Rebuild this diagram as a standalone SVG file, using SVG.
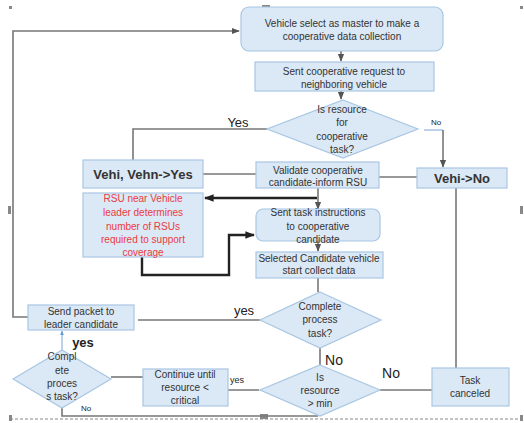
<svg xmlns="http://www.w3.org/2000/svg" width="524" height="423" viewBox="0 0 524 423">
<defs>
<style>
.box{fill:#dbe8f5;stroke:#a8c6e3;stroke-width:1.2}
.t{font-family:"Liberation Sans",Arial,sans-serif;font-size:10px;fill:#333;text-anchor:middle}
.b{font-family:"Liberation Sans",Arial,sans-serif;font-size:13px;font-weight:bold;fill:#333;text-anchor:middle}
.l{font-family:"Liberation Sans",Arial,sans-serif;fill:#222;text-anchor:middle}
.red{fill:#ec3a3f}
.c{fill:none;stroke:#777;stroke-width:1.6}
.k{fill:none;stroke:#222;stroke-width:2.4}
.h{fill:#888}
</style>
<marker id="a" viewBox="0 0 10 10" refX="9" refY="5" markerWidth="5" markerHeight="5" orient="auto"><path d="M0,1 L10,5 L0,9 z" fill="#555"/></marker>
<marker id="ak" viewBox="0 0 10 10" refX="9" refY="5" markerWidth="4" markerHeight="4" orient="auto"><path d="M0,1 L10,5 L0,9 z" fill="#222"/></marker>
<marker id="ab" viewBox="0 0 10 10" refX="9" refY="5" markerWidth="4" markerHeight="4" orient="auto"><path d="M0,1 L10,5 L0,9 z" fill="#5b9bd5"/></marker>
</defs>
<rect width="524" height="423" fill="#fff"/>
<g id="frame">
<line x1="10" y1="419" x2="521" y2="419" stroke="#888" stroke-width="1" stroke-dasharray="3,2"/>
<rect class="h" x="9" y="6" width="3" height="3"/>
<rect class="h" x="520" y="6" width="3" height="3"/>
<rect class="h" x="262" y="5" width="8" height="3"/>
<rect class="h" x="8" y="206" width="3" height="8"/>
<rect class="h" x="520" y="206" width="3" height="8"/>
<rect class="h" x="9" y="415" width="3" height="6"/>
<rect class="h" x="260" y="414" width="8" height="5"/>
<rect class="h" x="520" y="415" width="3" height="6"/>
</g>
<g id="connectors">
<path class="c" d="M28,317 H13 V31 H239" marker-end="url(#a)"/>
<path class="c" d="M341,51 V61" marker-end="url(#a)"/>
<path class="c" d="M341,91 V99" marker-end="url(#a)"/>
<path class="c" d="M267,129 H133 V160"/>
<path d="M424,130 H443" fill="none" stroke="#8fb6de" stroke-width="1.2"/>
<path class="c" d="M443,130 V167" marker-end="url(#a)"/>
<path class="c" d="M202,174 H256"/>
<path class="c" d="M379,177 H417"/>
<path class="c" d="M456,188 V368"/>
<path class="k" d="M317,198 H205" marker-end="url(#ak)"/>
<path class="c" d="M318,188 V209" marker-end="url(#a)"/>
<path class="k" d="M142,257 V275 H229 V235 H254" marker-end="url(#ak)"/>
<path class="c" d="M318,241 V251" marker-end="url(#a)"/>
<path class="c" d="M318,278 V292"/>
<path class="c" d="M260,320 H138"/>
<path d="M62,351 V331" fill="none" stroke="#8fb6de" stroke-width="1.2" marker-end="url(#ab)"/>
<path class="c" d="M111,377 H143"/>
<path class="c" d="M259,390 H218"/>
<path class="c" d="M320,348 V365"/>
<path class="c" d="M380,390 H432"/>
<path class="c" d="M62,408 V416 H318"/>
</g>
<g id="n1">
<rect class="box" x="241" y="7" width="202" height="44" rx="8"/>
<text class="t" x="342" y="27">Vehicle select as master to make a</text>
<text class="t" x="342" y="40">cooperative data collection</text>
</g>
<g id="n2">
<rect class="box" x="255" y="62" width="179" height="29"/>
<text class="t" x="344" y="75">Sent cooperative request to</text>
<text class="t" x="344" y="88">neighboring  vehicle</text>
</g>
<g id="d1">
<polygon class="box" points="343,100 418,129 343,158 267,129"/>
<text class="t" x="342" y="113">Is resource</text>
<text class="t" x="342" y="126">for</text>
<text class="t" x="342" y="140">cooperative</text>
<text class="t" x="342" y="153">task?</text>
</g>
<g id="labels">
<text class="l" x="238" y="127" font-size="13">Yes</text>
<text class="l" x="436" y="125" font-size="8">No</text>
<text class="l" x="244" y="315" font-size="13">yes</text>
<text class="l" x="83" y="347" font-size="13" font-weight="bold">yes</text>
<text class="l" x="86" y="411" font-size="8">No</text>
<text class="l" x="237" y="383" font-size="9">yes</text>
<text class="l" x="334" y="365" font-size="14">No</text>
<text class="l" x="391" y="378" font-size="14">No</text>
</g>
<g id="n3">
<rect class="box" x="83" y="160" width="120" height="28"/>
<text class="b" x="143" y="179">Vehi, Vehn-&gt;Yes</text>
</g>
<g id="n4">
<rect class="box" x="256" y="162" width="123" height="26"/>
<text class="t" x="318" y="174">Validate cooperative</text>
<text class="t" x="318" y="186">candidate-inform RSU</text>
</g>
<g id="n5">
<rect class="box" x="417" y="168" width="90" height="20"/>
<text class="b" x="462" y="183">Vehi-&gt;No</text>
</g>
<g id="n6">
<rect class="box" x="83" y="193" width="120" height="64"/>
<text class="t red" x="143" y="202">RSU near Vehicle</text>
<text class="t red" x="143" y="216">leader determines</text>
<text class="t red" x="143" y="230">number of RSUs</text>
<text class="t red" x="143" y="243">required to support</text>
<text class="t red" x="143" y="256">coverage</text>
</g>
<g id="n7">
<rect class="box" x="256" y="209" width="124" height="32" rx="7"/>
<text class="t" x="318" y="216">Sent task instructions</text>
<text class="t" x="318" y="230">to cooperative</text>
<text class="t" x="318" y="243">candidate</text>
</g>
<g id="n8">
<rect class="box" x="256" y="252" width="127" height="26"/>
<text class="t" x="319" y="262" font-size="9">Selected Candidate vehicle</text>
<text class="t" x="319" y="274" font-size="9">start collect data</text>
</g>
<g id="d2">
<polygon class="box" points="320,292 381,320 320,348 260,320"/>
<text class="t" x="320" y="310">Complete</text>
<text class="t" x="320" y="323">process</text>
<text class="t" x="320" y="337">task?</text>
</g>
<g id="n9">
<rect class="box" x="28" y="305" width="106" height="25"/>
<text class="t" x="81" y="315">Send packet to</text>
<text class="t" x="81" y="328">leader candidate</text>
</g>
<g id="d3">
<polygon class="box" points="62,350 111,379 62,408 13,379"/>
<text class="t" x="62" y="360">Compl</text>
<text class="t" x="62" y="374">ete</text>
<text class="t" x="62" y="387">proces</text>
<text class="t" x="62" y="400">s task?</text>
</g>
<g id="n10">
<rect class="box" x="143" y="369" width="85" height="37"/>
<text class="t" x="185" y="378">Continue until</text>
<text class="t" x="185" y="391">resource &lt;</text>
<text class="t" x="185" y="404">critical</text>
</g>
<g id="d4">
<polygon class="box" points="320,365 380,390 320,416 260,390"/>
<text class="t" x="320" y="381">Is</text>
<text class="t" x="320" y="394">resource</text>
<text class="t" x="320" y="407">&gt; min</text>
</g>
<g id="n11">
<rect class="box" x="432" y="368" width="77" height="38"/>
<text class="t" x="470" y="384">Task</text>
<text class="t" x="470" y="397">canceled</text>
</g>
</svg>
